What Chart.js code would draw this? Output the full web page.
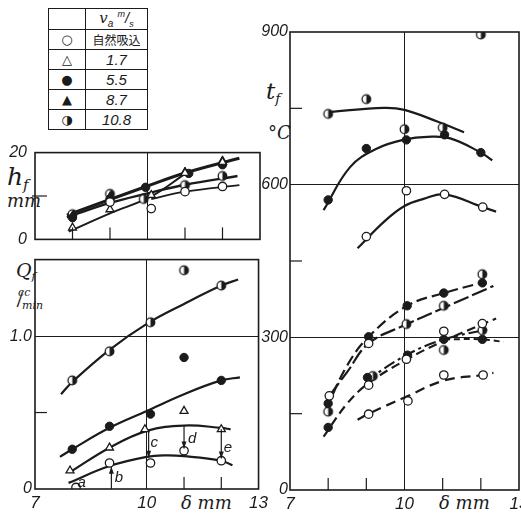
<!DOCTYPE html>
<html>
<head>
<meta charset="utf-8">
<script src="https://cdn.jsdelivr.net/npm/chart.js@4.4.1/dist/chart.umd.min.js"></script>
<style>
  html, body { margin: 0; padding: 0; background: #fff; }
  body { position: relative; width: 521px; height: 516px; overflow: hidden; }
  canvas { position: absolute; }
  .lab { position: absolute; color: #1b1b1b; font-family: "DejaVu Serif", serif; font-style: italic; line-height: 1; white-space: nowrap; }
  .lab sub { font-size: 0.6em; vertical-align: -0.3em; }
  #key { position: absolute; left: 48px; top: 8px; border-collapse: collapse; border: 1.6px solid #1b1b1b; }
  #key td { border: 1px solid #1b1b1b; height: 19px; padding: 0; text-align: center; color: #1b1b1b; }
  #key td.sym { width: 36px; font-family: "DejaVu Sans", sans-serif; font-size: 13px; }
  #key td.val { width: 61px; font-family: "Liberation Sans", sans-serif; font-style: italic; font-size: 15px; }
  #key td.cjk { font-family: "Noto Sans CJK JP", sans-serif; font-style: normal; font-size: 12px; }
</style>
</head>
<body>
<table id="key"></table>

<div class="lab" style="left:7px;top:164px;font-size:25px">h<sub>f</sub></div>
<div class="lab" style="left:7px;top:192px;font-size:18px">mm</div>

<div class="lab" style="left:16px;top:261px;font-size:19px">Q<sub>f</sub></div>
<div class="lab" style="left:18px;top:287px;font-size:11px">cc</div>
<div class="lab" style="left:17px;top:290px;font-size:18px;transform:rotate(-8deg)">/</div>
<div class="lab" style="left:22px;top:300px;font-size:11px">min</div>

<div class="lab" style="left:266px;top:80px;font-size:23px">t<sub>f</sub></div>
<div class="lab" style="left:268px;top:124px;font-size:18px">°C</div>

<div class="lab" style="left:181px;top:494px;font-size:18px">δ&nbsp;mm</div>
<div class="lab" style="left:439px;top:494px;font-size:18px">δ&nbsp;mm</div>

<canvas id="hf"></canvas>
<canvas id="qf"></canvas>
<canvas id="tf"></canvas>

<script>
const INK = '#1b1b1b';

// legend: air speed v_a (m/s)
const keySymbols = ['○', '△', '●', '▲', '◑'];
const keySpeeds = ['自然吸込', '1.7', '5.5', '8.7', '10.8'];

// x axis: gap δ (mm)
const deltaLabels = [7, 10, 13];

// h_f (mm), flame height
const hfOpen = [[9, 8.6], [10.1, 7.1], [11, 11.0], [12, 12.2]];
const hfTri = [[8, 2.7], [9, 6.9], [10.1, 10.2], [11, 15.3], [12, 17.8]];
const hfDot = [[8, 5.0], [9, 9.3], [9.95, 12.0], [11.1, 15.2], [12, 17.2]];
const hfTriFill = [[8, 5.5], [9, 9.9], [11, 15.6], [12, 18.2]];
const hfHalf = [[8, 5.8], [9, 10.5], [9.9, 9.3], [11, 12.5], [12, 14.6]];
const hfLineTop = [[7.85, 5.6], [10, 12.3], [11, 15.3], [12.45, 18.7]];
const hfLineHalf = [[7.85, 5.1], [9, 8.4], [10, 10.6], [11, 12.6], [12.4, 14.6]];
const hfLineTri = [[7.9, 1.8], [9, 6.0], [10.1, 9.9], [11, 15.1]];
const hfLineOpen = [[10.1, 9.3], [11, 11.0], [12.45, 12.5]];

// Q_f (cc/min), fuel flow
const qfOpen = [[8.1, 0.01], [9, 0.17], [10.1, 0.17], [11, 0.25], [12, 0.185]];
const qfTri = [[7.94, 0.12], [9, 0.27], [9.95, 0.39], [11, 0.51], [12, 0.39]];
const qfDot = [[8, 0.26], [9, 0.41], [10.1, 0.49], [11, 0.86], [12, 0.71]];
const qfHalf = [[8, 0.71], [9, 0.90], [10.1, 1.09], [11, 1.43], [12, 1.33]];
const qfLineOpen = [[7.9, 0.04], [9, 0.15], [10, 0.21], [10.5, 0.22], [11, 0.215], [12, 0.185], [12.3, 0.155]];
const qfLineTri = [[7.94, 0.11], [9, 0.27], [10, 0.38], [11, 0.415], [12, 0.40], [12.25, 0.39]];
const qfLineDot = [[7.67, 0.21], [8, 0.26], [9, 0.40], [10, 0.51], [11, 0.62], [12, 0.71], [12.5, 0.73]];
const qfLineHalf = [[7.7, 0.62], [8, 0.70], [9, 0.91], [10, 1.08], [11, 1.21], [12, 1.33], [12.45, 1.37]];
const qfNoteText = ['a', 'b', 'c', 'd', 'e'];
const qfNoteAt = [[8.25, 0.04], [9.25, 0.07], [10.2, 0.30], [11.22, 0.33], [12.18, 0.27]];
const qfArrows = [[9.05, 0.0, 0.145], [10.05, 0.385, 0.205], [11.0, 0.41, 0.265], [12.0, 0.39, 0.2]];

// t_f (°C), flame temperature
const tfOpen = [[9, 498], [10.05, 588], [11.05, 581], [12.05, 556], [8.03, 185], [9.06, 288], [9.06, 206],
  [9.06, 149], [10.05, 257], [10.09, 175], [11.03, 312], [11.03, 226], [12.04, 327], [12.06, 226]];
const tfDot = [[8, 570], [9, 671], [10.05, 688], [11.05, 698], [12, 663], [8, 170], [8, 123], [9.06, 301],
  [9.03, 221], [10.07, 362], [10.08, 265], [11.03, 387], [11.03, 296], [12.04, 407], [12.04, 296]];
const tfHalf = [[8, 739], [9, 768], [10, 709], [11, 712], [12, 895], [8, 154], [9.17, 224], [10.05, 326],
  [11.03, 362], [11.03, 275], [12.04, 424], [12.04, 314]];
const tfLineHalf = [[8.05, 743], [9.46, 751], [10, 747], [10.86, 724], [11.56, 703]];
const tfLineDot = [[7.88, 550], [8.58, 635], [9.28, 671], [10.02, 689], [10.6, 694], [11.2, 691], [12, 663], [12.3, 648]];
const tfLineOpen = [[8.77, 475], [9.46, 527], [10, 558], [10.5, 572], [11.05, 581], [12.05, 556], [12.4, 547]];
const tfLow1 = [[7.95, 160], [8.5, 245], [9.06, 301], [10.07, 362], [11.03, 387], [12.0, 407]];
const tfLow2 = [[8.03, 185], [8.5, 232], [9.06, 288], [10.07, 326], [11.03, 358], [12.33, 401]];
const tfLow3 = [[7.88, 105], [8.5, 170], [9.06, 210], [10.07, 257], [11.03, 293], [12.4, 337]];
const tfLow4 = [[8.97, 214], [10.07, 266], [11.03, 296], [12.2, 316]];
const tfLow5 = [[11.03, 296], [12.04, 296], [12.6, 291]];
const tfLow6 = [[8.77, 138], [9.06, 150], [10.07, 184], [11.03, 215], [12.04, 226], [12.33, 230]];

document.getElementById('key').innerHTML =
  '<tr><td class="sym"></td><td class="val"><span style="font-family:DejaVu Serif">v</span><sub style="font-size:10px">a</sub>' +
  ' <sup style="font-size:9px">m</sup>/<sub style="font-size:9px">s</sub></td></tr>' +
  keySymbols.map((s, i) => '<tr><td class="sym">' + s + '</td><td class="val' + (i === 0 ? ' cjk' : '') + '">' +
    keySpeeds[i] + '</td></tr>').join('');

function halfDot(r) {
  const c = document.createElement('canvas');
  const s = Math.ceil(2 * r + 4);
  c.width = c.height = s;
  const g = c.getContext('2d');
  const m = s / 2;
  g.beginPath(); g.arc(m, m, r, 0, 2 * Math.PI); g.fillStyle = '#fff'; g.fill();
  g.beginPath(); g.arc(m, m, r, -Math.PI / 2, Math.PI / 2); g.closePath(); g.fillStyle = INK; g.fill();
  g.beginPath(); g.arc(m, m, r, 0, 2 * Math.PI); g.lineWidth = 1.3; g.strokeStyle = INK; g.stroke();
  return c;
}

const MARK = {
  open: {pointStyle: 'circle', pointBackgroundColor: '#fff', pointBorderColor: INK, pointRadius: 4.2, pointBorderWidth: 1.3},
  tri: {pointStyle: 'triangle', pointBackgroundColor: '#fff', pointBorderColor: INK, pointRadius: 4.6, pointBorderWidth: 1.3},
  dot: {pointStyle: 'circle', pointBackgroundColor: INK, pointBorderColor: INK, pointRadius: 4.2, pointBorderWidth: 1},
  triFill: {pointStyle: 'triangle', pointBackgroundColor: INK, pointBorderColor: INK, pointRadius: 4.6, pointBorderWidth: 1},
  half: {pointStyle: halfDot(4.3), pointRadius: 4.3}
};

const xy = pts => pts.map(([x, y]) => ({x, y}));
const marks = (pts, style) => Object.assign({data: xy(pts), showLine: false, order: 0}, MARK[style]);
const curve = (pts, w, dash) => ({data: xy(pts), showLine: true, pointRadius: 0, borderColor: INK,
  borderWidth: w, borderDash: dash || [], tension: 0.4, order: 1});

// frame, short inner ticks, arrows and letters
function paper(o) {
  return {
    id: 'paper',
    afterDatasetsDraw(chart) {
      const {ctx, chartArea: a, scales: {x, y}} = chart;
      ctx.save();
      ctx.strokeStyle = INK; ctx.fillStyle = INK;
      ctx.lineWidth = 1.6;
      ctx.strokeRect(a.left, a.top, a.width, a.height);
      ctx.lineWidth = 1.2;
      const seg = (x1, y1, x2, y2) => { ctx.beginPath(); ctx.moveTo(x1, y1); ctx.lineTo(x2, y2); ctx.stroke(); };
      o.xTicks.forEach(v => { const px = x.getPixelForValue(v); seg(px, a.bottom, px, a.bottom - o.len); });
      o.yTicks.forEach(v => { const py = y.getPixelForValue(v); seg(a.left - (o.out || 0), py, a.left + o.len, py); });
      (o.arrows || []).forEach(([v, from, to]) => {
        const px = x.getPixelForValue(v), p1 = y.getPixelForValue(from), p2 = y.getPixelForValue(to);
        const dir = p2 > p1 ? 1 : -1;
        seg(px, p1, px, p2);
        ctx.beginPath(); ctx.moveTo(px, p2); ctx.lineTo(px - 2.5, p2 - dir * 7); ctx.lineTo(px + 2.5, p2 - dir * 7);
        ctx.closePath(); ctx.fill();
      });
      ctx.font = 'italic 15px "Liberation Sans"';
      ctx.textAlign = 'center'; ctx.textBaseline = 'middle';
      (o.notes || []).forEach((t, i) => {
        const [v, w] = o.noteAt[i];
        ctx.fillText(t, x.getPixelForValue(v), y.getPixelForValue(w));
      });
      ctx.restore();
    }
  };
}

function panel(id, box, cfg) {
  const cv = document.getElementById(id);
  cv.width = box.w; cv.height = box.h;
  cv.style.left = box.x + 'px'; cv.style.top = box.y + 'px';
  const tickFont = {family: 'Liberation Sans', style: 'italic', size: 17};
  return new Chart(cv, {
    type: 'scatter',
    data: {datasets: cfg.datasets},
    options: {
      responsive: false, animation: false, events: [],
      layout: {autoPadding: false, padding: box.pad},
      plugins: {legend: {display: false}, tooltip: {enabled: false}},
      scales: {
        x: {
          type: 'linear', min: 7, max: 13, border: {display: false},
          grid: {drawTicks: false, lineWidth: 1, color: c => c.tick && c.tick.value === 10 ? INK : 'rgba(0,0,0,0)'},
          ticks: {stepSize: 1, autoSkip: false, maxRotation: 0, display: cfg.xLabels.length > 0, padding: 4,
            color: INK, font: tickFont, callback: v => cfg.xLabels.includes(v) ? String(v) : ''},
          afterFit: s => { s.height = box.xh; }
        },
        y: {
          type: 'linear', min: cfg.yMin, max: cfg.yMax, border: {display: false},
          grid: {drawTicks: false, lineWidth: 1, color: c => c.tick && cfg.yGrid.includes(c.tick.value) ? INK : 'rgba(0,0,0,0)'},
          ticks: {stepSize: cfg.yStep, autoSkip: false, padding: box.yPad, color: INK,
            font: {family: 'Liberation Sans', style: 'italic', size: 16},
            callback: v => cfg.yLabels.includes(v) ? cfg.fmt(v) : ''},
          afterFit: s => { s.width = box.yw; }
        }
      }
    },
    plugins: [paper(cfg.paper)]
  });
}

panel('hf', {x: 0, y: 135, w: 270, h: 122, pad: {left: 0, top: 10, right: 10, bottom: 10}, yw: 35, xh: 0, yPad: 8}, {
  datasets: [
    marks(hfOpen, 'open'), marks(hfTri, 'tri'), marks(hfDot, 'dot'), marks(hfTriFill, 'triFill'), marks(hfHalf, 'half'),
    curve(hfLineTop, 3), curve(hfLineHalf, 2.4), curve(hfLineTri, 2), curve(hfLineOpen, 1.8)
  ],
  xLabels: [], yMin: 0, yMax: 20, yStep: 10, yGrid: [], yLabels: [0, 20], fmt: v => String(v),
  paper: {xTicks: [8, 9, 11, 12], yTicks: [10], len: 12, out: 3}
});

panel('qf', {x: 0, y: 247, w: 272, h: 269, pad: {left: 0, top: 12, right: 12, bottom: 0}, yw: 35, xh: 27, yPad: 3}, {
  datasets: [
    marks(qfOpen, 'open'), marks(qfTri, 'tri'), marks(qfDot, 'dot'), marks(qfHalf, 'half'),
    curve(qfLineOpen, 2.2), curve(qfLineTri, 2.2), curve(qfLineDot, 2.2), curve(qfLineHalf, 2.2)
  ],
  xLabels: deltaLabels, yMin: 0, yMax: 1.5, yStep: 0.5, yGrid: [1], yLabels: [0, 1], fmt: v => v === 0 ? '0' : v.toFixed(1),
  paper: {xTicks: [11, 12], yTicks: [0.5], len: 12, out: 0, arrows: qfArrows, notes: qfNoteText, noteAt: qfNoteAt}
});

panel('tf', {x: 250, y: 20, w: 285, h: 496, pad: {left: 0, top: 12, right: 16, bottom: 0}, yw: 40, xh: 26, yPad: 2}, {
  datasets: [
    marks(tfOpen, 'open'), marks(tfDot, 'dot'), marks(tfHalf, 'half'),
    curve(tfLineHalf, 2.2), curve(tfLineDot, 2.2), curve(tfLineOpen, 2.2),
    curve(tfLow1, 2.2, [11, 5]), curve(tfLow2, 2.2, [16, 4]), curve(tfLow3, 2.2, [9, 5]),
    curve(tfLow4, 2.2, [12, 4, 3, 4]), curve(tfLow5, 2, [6, 4]), curve(tfLow6, 2.2, [10, 6])
  ],
  xLabels: deltaLabels, yMin: 0, yMax: 900, yStep: 150, yGrid: [300, 600], yLabels: [0, 300, 600, 900], fmt: v => String(v),
  paper: {xTicks: [8, 9, 11, 12], yTicks: [150, 450, 750], len: 12, out: 0}
});
</script>
</body>
</html>
